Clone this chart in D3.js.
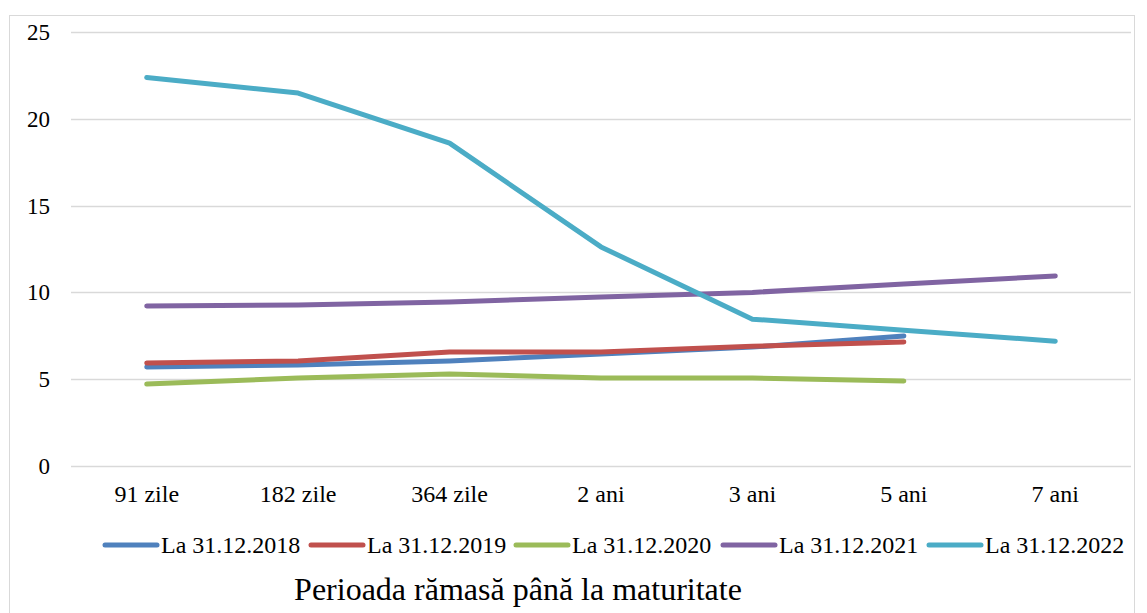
<!DOCTYPE html>
<html><head><meta charset="utf-8">
<script src="https://cdn.jsdelivr.net/npm/d3@7"></script>
<style>body{margin:0;background:#fff}svg{display:block}text{font-family:"Liberation Serif","Times New Roman",serif;fill:#000}</style>
</head><body>
<script>
const categories = ["91 zile","182 zile","364 zile","2 ani","3 ani","5 ani","7 ani"];
const seriesNames = ["La 31.12.2018","La 31.12.2019","La 31.12.2020","La 31.12.2021","La 31.12.2022"];
const s2018 = [5.7, 5.82, 6.05, 6.45, 6.85, 7.49, null];
const s2019 = [5.93, 6.05, 6.56, 6.56, 6.9, 7.14, null];
const s2020 = [4.72, 5.07, 5.3, 5.07, 5.07, 4.9, null];
const s2021 = [9.22, 9.28, 9.45, 9.73, 10.0, 10.48, 10.95];
const s2022 = [22.38, 21.48, 18.6, 12.62, 8.46, 7.82, 7.19];
const yTicks = [0, 5, 10, 15, 20, 25];
const colors = ["#4F81BD","#C0504D","#9BBB59","#8064A2","#4BACC6"];
const allSeries = [s2018, s2019, s2020, s2021, s2022];
const axisTitle = "Perioada rămasă până la maturitate";

const W = 1147, H = 613;
const svg = d3.select("body").append("svg").attr("width", W).attr("height", H)
  .attr("font-family", "'Liberation Serif','Times New Roman',serif");
svg.append("rect").attr("x", 9.5).attr("y", 15.5).attr("width", 1125).attr("height", 620)
  .attr("fill", "#fff").attr("stroke", "#d9d9d9").attr("stroke-width", 1);

const x = d3.scaleBand().domain(categories).range([71, 1131]);
const y = d3.scaleLinear().domain([0, 25]).range([466, 32]);

svg.append("g").selectAll("line").data(yTicks).join("line")
  .attr("x1", 71).attr("x2", 1131)
  .attr("y1", d => Math.round(y(d)) + 0.5).attr("y2", d => Math.round(y(d)) + 0.5)
  .attr("stroke", "#d9d9d9").attr("stroke-width", 1.5);

svg.append("g").selectAll("text").data(yTicks).join("text")
  .attr("x", 50).attr("y", d => y(d)).attr("dy", "0.35em")
  .attr("text-anchor", "end").attr("font-size", 23).text(d => d);

svg.append("g").selectAll("text").data(categories).join("text")
  .attr("x", d => x(d) + x.bandwidth() / 2).attr("y", 502)
  .attr("text-anchor", "middle").attr("font-size", 24).text(d => d);

const line = d3.line()
  .defined(d => d.v != null)
  .x(d => x(d.c) + x.bandwidth() / 2)
  .y(d => y(d.v));

allSeries.forEach((s, i) => {
  svg.append("path")
    .datum(categories.map((c, j) => ({c, v: s[j]})))
    .attr("d", line).attr("fill", "none")
    .attr("stroke", colors[i]).attr("stroke-width", 5)
    .attr("stroke-linecap", "round").attr("stroke-linejoin", "round");
});

const legX = [105, 311, 516, 723, 929];
const lg = svg.append("g").selectAll("g").data(seriesNames).join("g")
  .attr("transform", (d, i) => `translate(${legX[i]},545)`);
lg.append("line").attr("x1", 0).attr("x2", 52).attr("y1", 0).attr("y2", 0)
  .attr("stroke", (d, i) => colors[i]).attr("stroke-width", 5).attr("stroke-linecap", "round");
lg.append("text").attr("x", 56).attr("y", 0).attr("dy", "0.35em")
  .attr("font-size", 24).text(d => d);

svg.append("text").attr("x", 518).attr("y", 600).attr("text-anchor", "middle")
  .attr("font-size", 32).text(axisTitle);
</script>
</body></html>
